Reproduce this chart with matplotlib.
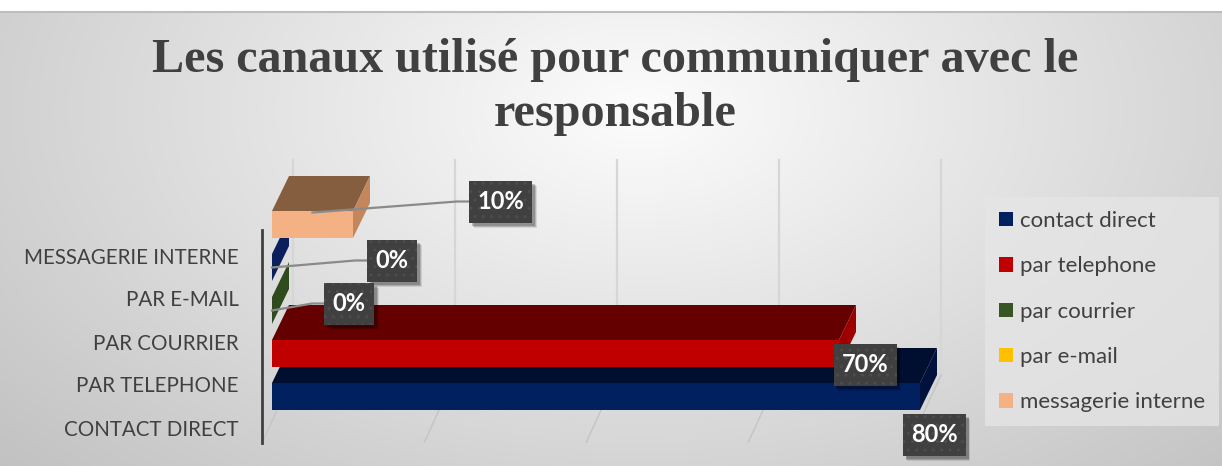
import numpy as np
import matplotlib
matplotlib.use('Agg')
from matplotlib import pyplot as plt
from matplotlib.patches import Polygon, Rectangle, Patch

plt.rcParams['font.family'] = ['Lato', 'DejaVu Sans']

# donnees
categories = ['CONTACT DIRECT', 'PAR TELEPHONE', 'PAR COURRIER', 'PAR E-MAIL', 'MESSAGERIE INTERNE']
series = ['contact direct', 'par telephone', 'par courrier', 'par e-mail', 'messagerie interne']
values = [80, 70, 0, 0, 10]
labels = ['80%', '70%', '0%', '0%', '10%']
grid_ticks = [0, 20, 40, 60, 80]

# couleurs : face avant, dessus, cote
front_colors = ['#002060', '#C00000', '#375623', '#FFC000', '#F4B183']
top_colors = ['#000E30', '#650000', '#263D18', '#B38600', '#855E40']
side_colors = ['#00123C', '#9E0000', '#2F4A1D', '#0A1F5C', '#C4875C']

# echelle (pixels par unite)
PXV = 8.1    # pixels pour 1 %
PXR = 43.0   # pixels entre deux barres

# positions des etiquettes (decalage en pixels depuis le bout de la barre)
lab_dx = [14, 26, 77, 120, 147.5]
lab_dy = [38.5, 11.5, -7, -7, -23]

W, H = 1222, 466
fig = plt.figure(figsize=(W / 100, H / 100), dpi=100)

# fond degrade
bg = fig.add_axes([0, 0, 1, 1])
yy, xx = np.mgrid[0:H, 0:W]
d = np.sqrt(((xx - 640) / 720.0) ** 2 + ((yy - 110) / 430.0) ** 2)
g = np.clip(0.99 - 0.19 * d, 0, 1)
bg.imshow(np.dstack([g, g, g]), extent=[0, W, H, 0], aspect='auto', interpolation='bilinear')
bg.add_patch(Rectangle((0, 0), W, 11, fc='white', ec='none'))
bg.plot([0, W], [11.5, 11.5], color='#bdbdbd', lw=1.5)
bg.set_xlim(0, W)
bg.set_ylim(H, 0)
bg.axis('off')

# titre
fig.text(615 / W, 1 - 87 / H, 'Les canaux utilisé pour communiquer avec le\nresponsable',
         ha='center', va='center', fontsize=34.7, fontweight='bold', color='#404040',
         family=['Liberation Serif'], linespacing=1.32)

# axe principal
ax = fig.add_axes([262 / W, (H - 443) / H, (980 - 262) / W, (443 - 150) / H])
ax.patch.set_visible(False)
ax.set_xlim(-10 / PXV, 708 / PXV)
ymin, ymax = (396.5 - 443) / PXR, (396.5 - 150) / PXR
ax.set_ylim(ymin, ymax)
for s in ['top', 'right', 'bottom']:
    ax.spines[s].set_visible(False)
ax.spines['left'].set_bounds(ymin, (396.5 - 230) / PXR)
ax.spines['left'].set_color('#404040')
ax.spines['left'].set_linewidth(2)
ax.set_xticks([])
rows = np.arange(len(values))
ax.set_yticks(rows - 31 / PXR, categories)
ax.tick_params(axis='y', length=0, pad=17, labelsize=14.8, labelcolor='#404040')

# grille (mur du fond et sol)
wall_x = 21 / PXV
floor_x = -10 / PXV
wall_bot = (396.5 - 375) / PXR
wall_top = (396.5 - 160) / PXR
for t in grid_ticks:
    ax.plot([t + wall_x, t + wall_x], [wall_bot, wall_top], color='#d6d6d6', lw=1.6, zorder=1)
    ax.plot([t + floor_x, t + wall_x], [ymin, wall_bot], color='#c4c4c4', lw=1.0, zorder=1)

# barres 3D
h = 13.5 / PXR
dx = 17 / PXV
dy = 35 / PXR
for r, v in zip(rows, values):
    z = 3 + r
    if v > 0:
        ax.add_patch(Rectangle((0, r - h), v, 2 * h, fc=front_colors[r], ec='none', zorder=z, clip_on=False))
        ax.add_patch(Polygon([(0, r + h), (v, r + h), (v + dx, r + h + dy), (dx, r + h + dy)],
                             fc=top_colors[r], ec='none', zorder=z, clip_on=False))
    ax.add_patch(Polygon([(v, r - h), (v, r + h), (v + dx, r + h + dy), (v + dx, r - h + dy)],
                         fc=side_colors[r], ec='none', zorder=z, clip_on=False))

# etiquettes de donnees
for r, v in zip(rows, values):
    bw = (63 if len(labels[r]) == 3 else 50) / PXV
    bh = 42 / PXR
    cx = v + lab_dx[r] / PXV
    cy = r - lab_dy[r] / PXR
    if v <= 10:
        sy = r + (12 / PXR if v > 0 else 0)
        ax.plot([v / 2, cx - bw / 2 - 12 / PXV, cx - bw / 2], [sy, cy, cy],
                color='#8a8a8a', lw=1.6, zorder=9, clip_on=False)
    for k, a in [(5, 0.10), (4, 0.15), (3, 0.2)]:
        ax.add_patch(Rectangle((cx - bw / 2 + k / PXV, cy - bh / 2 - k / PXR), bw, bh,
                               fc='black', ec='none', alpha=a, zorder=10, clip_on=False))
    ax.add_patch(Rectangle((cx - bw / 2, cy - bh / 2), bw, bh, fc='#404040', ec='#4d4d4d',
                           lw=0, hatch='..', zorder=11, clip_on=False))
    ax.text(cx, cy, labels[r], ha='center', va='center', color='white', fontsize=17,
            fontweight='bold', zorder=12, clip_on=False)

# legende
handles = [Patch(fc=c, ec='none') for c in front_colors]
leg = fig.legend(handles, series, loc='upper left', bbox_to_anchor=(985 / W, 1 - 197 / H),
                 fontsize=16, labelcolor='#404040', handlelength=0.63, handleheight=0.63,
                 handletextpad=0.32, labelspacing=1.14, borderpad=0.63, borderaxespad=0,
                 fancybox=False, frameon=True)
leg.get_frame().set_facecolor('#e6e6e6')
leg.get_frame().set_edgecolor('none')
leg.get_frame().set_alpha(0.75)

fig.savefig('out.png', dpi=100)
